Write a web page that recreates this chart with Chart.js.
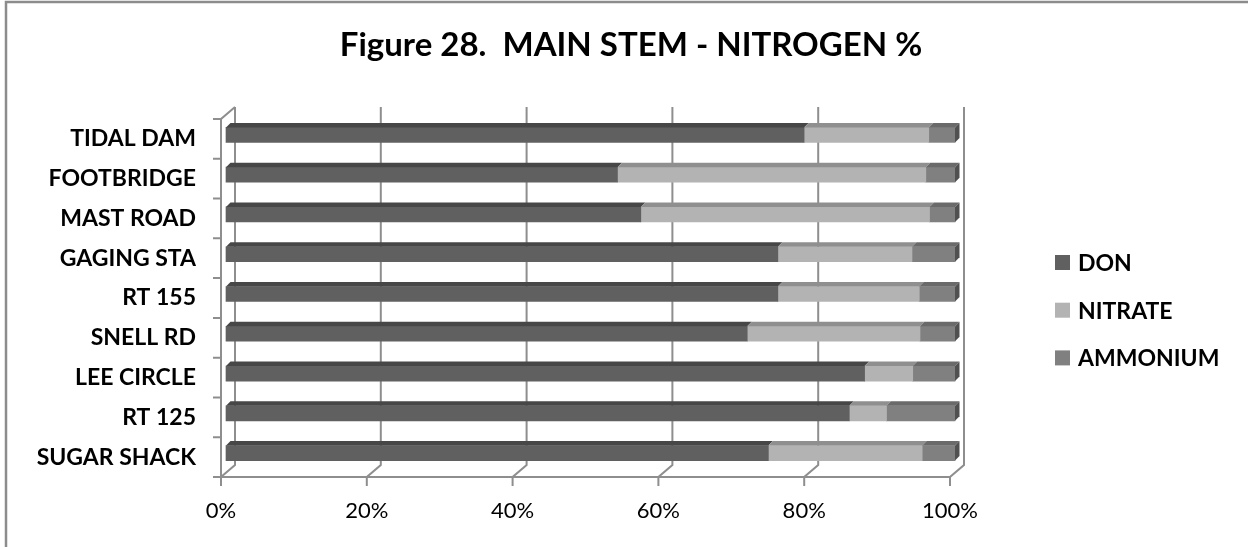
<!DOCTYPE html>
<html>
<head>
<meta charset="utf-8">
<title>Figure 28. Main Stem - Nitrogen %</title>
<script src="https://cdn.jsdelivr.net/npm/chart.js@4"></script>
<style>
    html, body { margin: 0; padding: 0; background: #fff; }
    #chart { display: block; }
</style>
</head>
<body>
<canvas id="chart" width="1248" height="547"></canvas>
<script>
// Sites, top to bottom as they appear on the chart
const sites = ['TIDAL DAM', 'FOOTBRIDGE', 'MAST ROAD', 'GAGING STA', 'RT 155', 'SNELL RD', 'LEE CIRCLE', 'RT 125', 'SUGAR SHACK'];

// Share of total nitrogen (%)
const don = [79.3, 53.7, 56.9, 75.7, 75.7, 71.5, 87.6, 85.5, 74.4];
const nitrate = [17.1, 42.3, 39.6, 18.4, 19.4, 23.7, 6.6, 5.1, 21.1];
const ammonium = [3.6, 4.0, 3.5, 5.9, 4.9, 4.8, 5.8, 9.4, 4.5];

const seriesNames = ['DON', 'NITRATE', 'AMMONIUM'];
const xTickStep = 20;

const titleText = 'Figure 28.  MAIN STEM - NITROGEN %';

const FONT = 'Lato, "Open Sans", sans-serif';
const GRID = '#8e8e8e';

// front / top / side shades for the fake 3D bars
const shades = [
    { front: '#606060', top: '#474747', side: '#3c3c3c' },
    { front: '#b3b3b3', top: '#8f8f8f', side: '#7a7a7a' },
    { front: '#808080', top: '#6a6a6a', side: '#505050' }
];

const WALL = { dx: 14, dy: -12 };       // back plane offset
const BAR = { dx: 5, dy: -4, depth: 4.5 }; // bar offset inside the box

const frame = {
    id: 'frame',
    beforeDraw(chart) {
        const { ctx } = chart;
        ctx.save();
        ctx.fillStyle = '#fff';
        ctx.fillRect(0, 0, chart.width, chart.height);
        ctx.strokeStyle = '#8c8c8c';
        ctx.lineWidth = 2.5;
        ctx.beginPath();
        ctx.moveTo(6, chart.height);
        ctx.lineTo(6, 2);
        ctx.lineTo(chart.width, 2);
        ctx.stroke();

        ctx.fillStyle = '#000';
        ctx.font = `bold 33px ${FONT}`;
        ctx.textAlign = 'center';
        ctx.textBaseline = 'middle';
        ctx.fillText(titleText, 631, 45);
        ctx.restore();
    }
};

// walls, floor and gridlines of the 3D box, positioned from the scales
const box3d = {
    id: 'box3d',
    beforeDatasetsDraw(chart) {
        const { ctx, chartArea: a, scales: { x, y } } = chart;
        ctx.save();
        ctx.strokeStyle = GRID;
        ctx.lineWidth = 2;
        ctx.beginPath();
        x.ticks.forEach(t => {
            const xf = x.getPixelForValue(t.value);
            const xb = xf + WALL.dx;
            ctx.moveTo(xb, a.top + WALL.dy);
            ctx.lineTo(xb, a.bottom + WALL.dy);
            ctx.lineTo(xf, a.bottom);
            ctx.lineTo(xf, a.bottom + 9);
        });
        // left wall
        ctx.moveTo(a.left + WALL.dx, a.top + WALL.dy);
        ctx.lineTo(a.left, a.top);
        ctx.lineTo(a.left, a.bottom + 9);
        // floor edge
        ctx.moveTo(a.left - 8, a.bottom);
        ctx.lineTo(a.right, a.bottom);
        // category ticks
        const band = (a.bottom - a.top) / sites.length;
        for (let i = 0; i < sites.length; i++) {
            const yy = a.top + i * band;
            ctx.moveTo(a.left - 8, yy);
            ctx.lineTo(a.left, yy);
        }
        ctx.stroke();
        ctx.restore();

        ctx.save();
        ctx.translate(BAR.dx, BAR.dy);
    },
    afterDatasetsDraw(chart) {
        const { ctx } = chart;
        const d = BAR.depth;
        const last = chart.data.datasets.length - 1;
        chart.data.datasets.forEach((ds, i) => {
            chart.getDatasetMeta(i).data.forEach(el => {
                const { x, y, base, height } = el.getProps(['x', 'y', 'base', 'height'], true);
                const top = y - height / 2;
                const bottom = y + height / 2;
                ctx.fillStyle = shades[i].top;
                ctx.beginPath();
                ctx.moveTo(base, top);
                ctx.lineTo(base + d, top - d);
                ctx.lineTo(x + d, top - d);
                ctx.lineTo(x, top);
                ctx.closePath();
                ctx.fill();
                if (i === last) {
                    ctx.fillStyle = shades[i].side;
                    ctx.beginPath();
                    ctx.moveTo(x, top);
                    ctx.lineTo(x + d, top - d);
                    ctx.lineTo(x + d, bottom - d);
                    ctx.lineTo(x, bottom);
                    ctx.closePath();
                    ctx.fill();
                }
            });
        });
        ctx.restore();
    }
};

const legend = {
    id: 'sideLegend',
    afterDraw(chart) {
        const { ctx } = chart;
        ctx.save();
        ctx.font = `bold 23px ${FONT}`;
        ctx.textAlign = 'left';
        ctx.textBaseline = 'middle';
        chart.data.datasets.forEach((ds, i) => {
            const cy = 262.5 + i * 47.7;
            ctx.fillStyle = ds.backgroundColor;
            ctx.fillRect(1055, cy - 7.5, 15, 15);
            ctx.fillStyle = '#000';
            ctx.fillText(ds.label, 1078, cy + 1);
        });
        ctx.restore();
    }
};

const seriesData = [don, nitrate, ammonium];

new Chart(document.getElementById('chart'), {
    type: 'bar',
    data: {
        labels: sites,
        datasets: seriesNames.map((name, i) => ({
            label: name,
            data: seriesData[i],
            backgroundColor: shades[i].front,
            borderWidth: 0,
            barThickness: 15,
            clip: false
        }))
    },
    options: {
        indexAxis: 'y',
        responsive: false,
        devicePixelRatio: 1,
        animation: false,
        layout: { padding: { top: 119, right: 298, bottom: 0, left: 0 } },
        plugins: {
            legend: { display: false },
            title: { display: false },
            tooltip: { enabled: false }
        },
        scales: {
            x: {
                stacked: true,
                min: 0,
                max: 100,
                grid: { display: false, drawTicks: false },
                border: { display: false },
                ticks: {
                    stepSize: xTickStep,
                    padding: 21,
                    color: '#000',
                    font: { family: FONT, size: 22 },
                    callback: v => v + '%'
                },
                afterFit: s => { s.height = 70; }
            },
            y: {
                stacked: true,
                grid: { display: false, drawTicks: false },
                border: { display: false },
                ticks: {
                    padding: 25,
                    color: '#000',
                    font: { family: FONT, size: 23, weight: 'bold' }
                },
                afterFit: s => { s.width = 221; }
            }
        }
    },
    plugins: [frame, box3d, legend]
});
</script>
</body>
</html>
